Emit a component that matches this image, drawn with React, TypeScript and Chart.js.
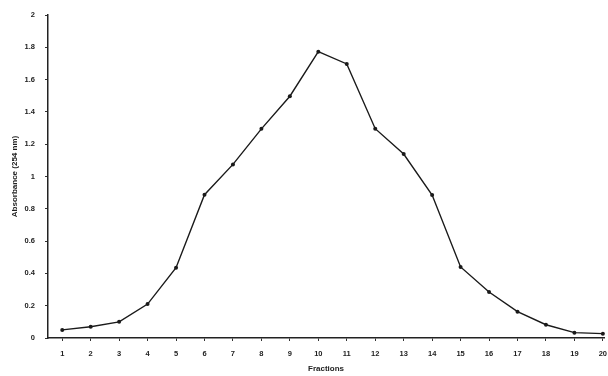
import React, { useEffect, useRef } from "react";
import { Chart, registerables } from "chart.js";

Chart.register(...registerables);

const fractions = [1, 2, 3, 4, 5, 6, 7, 8, 9, 10, 11, 12, 13, 14, 15, 16, 17, 18, 19, 20];
const absorbance = [0.05, 0.07, 0.1, 0.21, 0.435, 0.887, 1.075, 1.295, 1.497, 1.773, 1.697, 1.296, 1.139, 0.885, 0.44, 0.285, 0.163, 0.082, 0.033, 0.027];
const yTicks = [0, 0.2, 0.4, 0.6, 0.8, 1, 1.2, 1.4, 1.6, 1.8, 2];
const yTitle = "Absorbance (254 nm)";
const xTitle = "Fractions";

export default function App() {
  const ref = useRef<HTMLCanvasElement>(null);
  useEffect(() => {
    document.body.style.margin = "0";
    const ctx = ref.current!;
    const font = { family: "'Liberation Sans', Arial, sans-serif", size: 7.5, weight: "bold" as const };
    const chart = new Chart(ctx, {
      type: "line",
      data: {
        datasets: [
          {
            data: fractions.map((f, i) => ({ x: f, y: absorbance[i] })),
            borderColor: "#1a1a1a",
            backgroundColor: "#1a1a1a",
            borderWidth: 1.4,
            pointRadius: 2,
            pointBorderWidth: 0,
            tension: 0,
            clip: 8,
          },
        ],
      },
      options: {
        responsive: false,
        animation: false,
        events: [],
        layout: { padding: { top: 15, right: 0, left: 0, bottom: 0 } },
        plugins: { legend: { display: false }, tooltip: { enabled: false } },
        scales: {
          x: {
            type: "linear",
            min: 0.5,
            max: 20.04,
            afterBuildTicks: (s: any) => {
              s.ticks = fractions.map((v) => ({ value: v }));
            },
            afterFit: (s: any) => {
              s.height = 38;
              s.paddingRight = 0;
              s.paddingLeft = 0;
            },
            ticks: { font, color: "#222", maxRotation: 0, autoSkip: false, padding: 8, callback: (v: any) => String(v) },
            grid: { drawOnChartArea: false, tickLength: 3, color: "#333" },
            border: { color: "#222", width: 1.5 },
            title: { display: true, text: xTitle, font: { ...font, size: 8 }, color: "#222", padding: { top: 0, bottom: 2 } },
          },
          y: {
            type: "linear",
            min: 0,
            max: 2,
            afterBuildTicks: (s: any) => {
              s.ticks = yTicks.map((v) => ({ value: v }));
            },
            afterFit: (s: any) => {
              s.width = 48;
            },
            ticks: { font, color: "#222", padding: 10, callback: (v: any) => String(Math.round(v * 10) / 10) },
            grid: { drawOnChartArea: false, tickLength: 3, color: "#333" },
            border: { color: "#222", width: 1.5 },
            title: { display: true, text: yTitle, font: { ...font, size: 8 }, color: "#222", padding: { top: 10, bottom: 2 } },
          },
        },
      },
    });
    return () => chart.destroy();
  }, []);
  return <canvas ref={ref} width={608} height={376} style={{ display: "block" }} />;
}
